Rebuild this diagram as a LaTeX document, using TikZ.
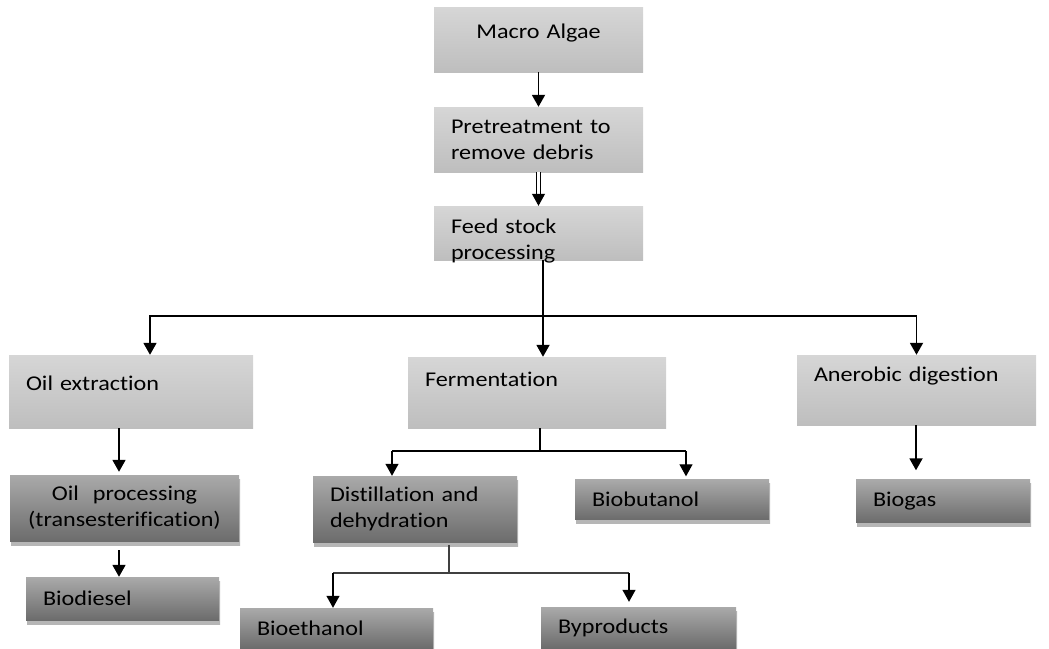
\documentclass[tikz,border=0pt]{standalone}
\usepackage{fontspec}
\setmainfont[FakeStretch=1.15, Ligatures=NoCommon]{Carlito}
\usepackage{xcolor}
\usetikzlibrary{arrows.meta,positioning,shadows}

\definecolor{lighttop}{RGB}{214,214,214}
\definecolor{lightbot}{RGB}{190,190,190}
\definecolor{darktop}{RGB}{170,170,170}
\definecolor{darkbot}{RGB}{108,108,108}
\definecolor{shadowgray}{RGB}{182,182,182}

\begin{document}
\begin{tikzpicture}[x=1pt, y=-1pt,
    font=\fontsize{21}{26}\selectfont,
    lightbox/.style={rectangle, top color=lighttop, bottom color=lightbot, inner xsep=17pt, inner ysep=0pt, align=left},
    darkbox/.style={rectangle, top color=darktop, bottom color=darkbot, inner xsep=17pt, inner ysep=0pt, align=left,
        drop shadow={shadow xshift=1pt, shadow yshift=-4pt, top color=shadowgray, bottom color=shadowgray, opacity=1}},
    arrow/.style={-{Triangle[width=13pt,length=12pt]}, line width=1.8pt},
    thinarrow/.style={-{Triangle[width=13pt,length=12pt]}, line width=1.2pt},
    branch/.style={line width=1.2pt}
]
\useasboundingbox (0,0) rectangle (1049,648);

% Main chain
\node[lightbox, align=center, text width=175pt, minimum height=65pt, text height=15pt, text depth=18pt] (algae) at (538.5,39.5) {Macro Algae};
\node[lightbox, text width=175pt, minimum height=65pt] (pretreat) at (538.5,139.5) {Pretreatment to\\remove debris};
\node[lightbox, text width=175pt, minimum height=54pt, text height=15pt, text depth=15pt] (feed) at (538.5,233) {Feed stock\\processing};

% Processes
\node[lightbox, text width=210pt, minimum height=73pt, text height=15pt, text depth=18pt] (oilext) at (131,391.5) {Oil extraction};
\node[lightbox, text width=224pt, minimum height=71pt, text height=15pt, text depth=28pt] (ferment) at (537,392.5) {Fermentation};
\node[lightbox, text width=205pt, minimum height=70pt, text height=15pt, text depth=33pt] (anaer) at (916.5,390) {Anerobic digestion};

% Products
\node[darkbox, align=center, text width=195pt, minimum height=66pt] (oilproc) at (124.5,508) {Oil\ \ processing\\(transesterification)};
\node[darkbox, text width=159pt, minimum height=43pt] (biodiesel) at (122.5,598.5) {Biodiesel};
\node[darkbox, text width=170pt, minimum height=66pt] (distil) at (415,509) {Distillation and\\dehydration};
\node[darkbox, text width=160pt, minimum height=40pt] (biobut) at (672,499.5) {Biobutanol};
\node[darkbox, text width=140pt, minimum height=43pt] (biogas) at (943,501) {Biogas};
\node[darkbox, text width=159pt, minimum height=40pt] (bioeth) at (336.5,628) {Bioethanol};
\node[darkbox, text width=161pt, minimum height=41pt] (byprod) at (638.5,627.5) {Byproducts};

% Arrows
\draw[arrow] (algae) -- (pretreat);
\draw[arrow, double, double distance=2.5pt, line width=1pt] (pretreat) -- (feed);

\coordinate (split) at (543,316);
\draw[line width=1.8pt] (feed.south -| split) -- (split);
\draw[arrow] (split) -- (ferment.north -| split);
\draw[arrow] (split) -| (oilext.north -| 150,0);
\draw[arrow] (split) -| (anaer.north);

\draw[arrow, shorten >=3pt] (oilext.south -| 119,0) -- (oilproc.north -| 119,0);
\draw[arrow, shorten <=9pt] (oilproc.south -| 119,0) -- (biodiesel.north -| 119,0);
\draw[arrow, shorten >=9pt] (anaer.south -| 916,0) -- (biogas.north -| 916,0);

% Fermentation split
\coordinate (fsplit) at (540,451);
\coordinate (fleft) at (392,451);
\coordinate (fright) at (686,451);
\draw[branch] (ferment.south -| fsplit) -- (fsplit);
\draw[branch] (fleft) -- (fright);
\draw[thinarrow] (fleft) -- (distil.north -| fleft);
\draw[thinarrow, shorten >=3pt] (fright) -- (biobut.north -| fright);

% Distillation split
\coordinate (dsplit) at (449,573);
\coordinate (dleft) at (333,573);
\coordinate (dright) at (629,573);
\draw[branch, darkgray, shorten <=3pt] (distil.south -| dsplit) -- (dsplit);
\draw[branch, darkgray] (dleft) -- (dright);
\draw[thinarrow] (dleft) -- (bioeth.north -| dleft);
\draw[thinarrow, shorten >=5pt] (dright) -- (byprod.north -| dright);

\end{tikzpicture}
\end{document}
